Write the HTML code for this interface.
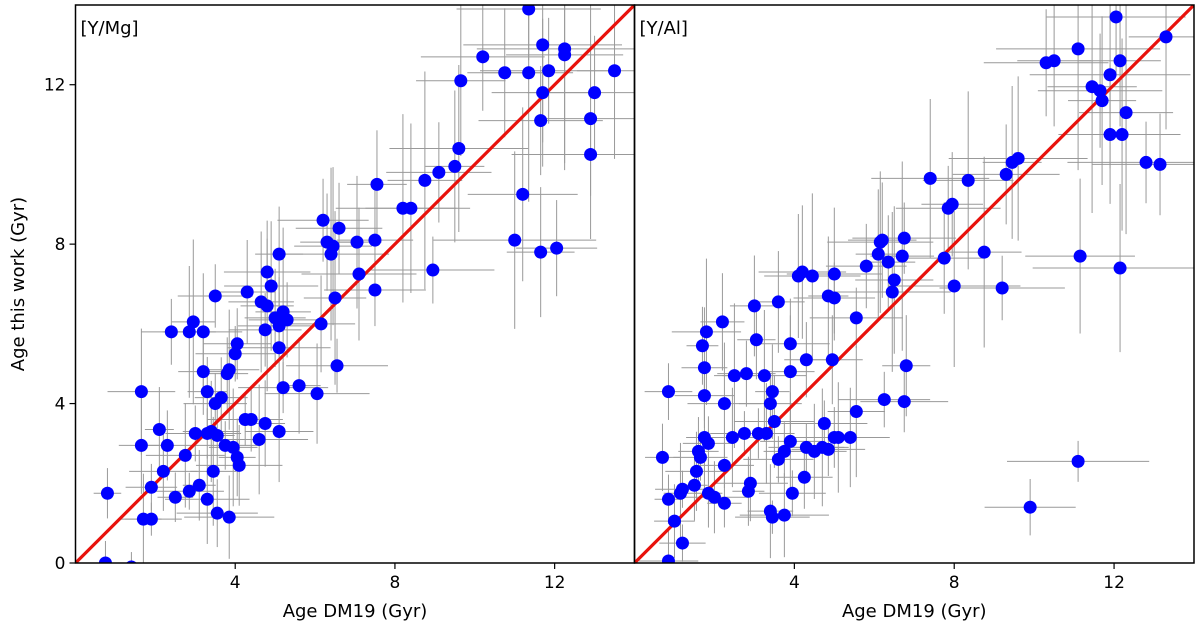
<!DOCTYPE html>
<html><head><meta charset="utf-8"><style>
body{margin:0;background:#fff}
svg{display:block;font-family:"DejaVu Sans","Liberation Sans",sans-serif}
</style></head><body>
<svg id="c" width="1200" height="630"></svg>
<script>
const magX=[0.75,1.4,0.8,1.65,1.65,1.7,1.9,1.9,2.1,2.2,2.3,2.4,2.5,2.75,2.85,2.95,2.85,3.0,3.1,3.2,3.2,3.3,3.3,3.3,3.4,3.45,3.5,3.5,3.55,3.55,3.65,3.75,3.8,3.85,3.85,3.95,4.0,4.05,4.05,4.1,4.3,4.25,4.4,4.6,4.65,4.8,4.8,4.75,4.75,4.9,5.0,5.1,5.1,5.1,5.1,5.2,5.2,5.3,5.6,6.05,6.15,6.2,6.3,6.4,6.45,6.5,6.55,6.6,7.05,7.1,7.5,7.5,7.55,8.2,8.4,8.75,8.95,9.1,9.5,9.6,9.65,10.2,10.75,11.0,11.2,11.35,11.35,11.65,11.65,11.7,11.7,11.85,12.05,12.25,12.25,12.9,12.9,13.0,13.5];
const magY=[0,-0.1,1.75,4.3,2.95,1.1,1.1,1.9,3.35,2.3,2.95,5.8,1.65,2.7,5.8,6.05,1.8,3.25,1.95,5.8,4.8,3.25,4.3,1.6,3.3,2.3,6.7,4.0,3.2,1.25,4.15,2.95,4.75,1.15,4.85,2.9,5.25,5.5,2.65,2.45,6.8,3.6,3.6,3.1,6.55,6.45,7.3,5.85,3.5,6.95,6.15,5.95,7.75,5.4,3.3,6.3,4.4,6.1,4.45,4.25,6.0,8.6,8.05,7.75,7.95,6.65,4.95,8.4,8.05,7.25,8.1,6.85,9.5,8.9,8.9,9.6,7.35,9.8,9.95,10.4,12.1,12.7,12.3,8.1,9.25,12.3,13.9,11.1,7.8,13.0,11.8,12.35,7.9,12.9,12.75,11.15,10.25,11.8,12.35];
const alX=[0.7,0.85,0.85,0.85,1.0,1.15,1.2,1.2,1.5,1.55,1.6,1.65,1.7,1.8,1.75,1.75,1.75,1.85,1.85,2.0,2.2,2.25,2.25,2.25,2.45,2.5,2.75,2.8,2.85,2.9,3.0,3.1,3.05,3.25,3.3,3.4,3.45,3.4,3.45,3.5,3.6,3.6,3.75,3.75,3.9,3.9,3.9,3.95,4.1,4.2,4.25,4.3,4.3,4.45,4.5,4.7,4.75,4.85,4.85,5.0,4.95,5.0,5.0,5.1,5.4,5.55,5.55,5.8,6.1,6.15,6.2,6.25,6.35,6.45,6.5,6.7,6.75,6.75,6.8,7.4,7.75,7.85,7.95,8.0,8.35,8.75,9.2,9.3,9.45,9.6,9.9,10.3,10.5,11.1,11.15,11.45,11.1,11.65,11.7,11.9,11.9,12.05,12.15,12.15,12.2,12.3,12.8,13.15,13.3];
const alY=[2.65,4.3,1.6,0.05,1.05,1.75,1.85,0.5,1.95,2.3,2.8,2.65,5.45,5.8,4.9,3.15,4.2,3.0,1.75,1.65,6.05,2.45,1.5,4.0,3.15,4.7,3.25,4.75,1.8,2.0,6.45,3.25,5.6,4.7,3.25,1.3,1.15,4.0,4.3,3.55,6.55,2.6,2.8,1.2,3.05,4.8,5.5,1.75,7.2,7.3,2.15,2.9,5.1,7.2,2.8,2.9,3.5,2.85,6.7,7.25,5.1,6.65,3.15,3.15,3.15,3.8,6.15,7.45,7.75,8.05,8.1,4.1,7.55,6.8,7.1,7.7,8.15,4.05,4.95,9.65,7.65,8.9,9.0,6.95,9.6,7.8,6.9,9.75,10.05,10.15,1.4,12.55,12.6,12.9,7.7,11.95,2.55,11.85,11.6,12.25,10.75,13.7,12.6,7.4,10.75,11.3,10.05,10.0,13.2];
const errXs=[0.9,1.2,0.7,1.5,1.0,0.8,1.3,1.1,0.6,1.4];
const errYs=[1.3,1.0,1.8,0.9,1.5,2.2,1.1,1.6,0.8,2.0];
const ticks=[4,8,12];
const NS="http://www.w3.org/2000/svg";
const svg=document.getElementById('c');
function mk(t,a,p){const e=document.createElementNS(NS,t);for(const k in a)e.setAttribute(k,a[k]);(p||svg).appendChild(e);return e;}
const Y0=563,Y1=5,D=14;
function sy(v){return Y0-(v/D)*(Y0-Y1);}
function panel(x0,x1,xs,ys,label,name,showY){
  const sx=v=>x0+(v/D)*(x1-x0);
  const g=mk('g',{});
  
  
  const cp='cp'+name;
  const cl=mk('clipPath',{id:cp},g);mk('rect',{x:x0,y:Y1,width:x1-x0,height:Y0-Y1},cl);
  const eg=mk('g',{'clip-path':'url(#'+cp+')',stroke:'#999','stroke-width':1},g);
  
  
  for(let i=0;i<xs.length;i++){
    const ex=0.85*errXs[i%10]*(0.5+xs[i]/10),ey=0.85*errYs[(i*3)%10]*(0.5+ys[i]/10);
    mk('line',{x1:sx(xs[i]-ex),x2:sx(xs[i]+ex),y1:sy(ys[i]),y2:sy(ys[i])},eg);
    mk('line',{x1:sx(xs[i]),x2:sx(xs[i]),y1:sy(ys[i]-ey),y2:sy(ys[i]+ey)},eg);
  }
  const ln=mk('line',{x1:sx(0),y1:sy(0),x2:sx(D),y2:sy(D),stroke:'#e8120c','stroke-width':3.2,'clip-path':'url(#'+cp+')'},g);
  
  
  const pg=mk('g',{'clip-path':'url(#'+cp+')'},g);
  for(let i=0;i<xs.length;i++){
    const c=mk('circle',{cx:sx(xs[i]),cy:sy(ys[i]),r:6.5,fill:'#0000ff'},pg);
    
    
  }
  const fr=mk('rect',{x:x0,y:Y1,width:x1-x0,height:Y0-Y1,fill:'none',stroke:'#000','stroke-width':1.5},g);
  
  
  ticks.forEach(t=>{
    mk('line',{x1:sx(t),x2:sx(t),y1:Y0,y2:Y0+6,stroke:'#000','stroke-width':1.2},g);
    const tx=mk('text',{x:sx(t),y:Y0+25,'text-anchor':'middle','font-size':17},g);tx.textContent=t;
    
    
  });
  if(showY){
    [0,4,8,12].forEach(t=>{
      mk('line',{x1:x0-6,x2:x0,y1:sy(t),y2:sy(t),stroke:'#000','stroke-width':1.2},g);
      const ty=mk('text',{x:x0-10,y:sy(t)+6,'text-anchor':'end','font-size':17},g);ty.textContent=t;
      
      
    });
  }
  const lb=mk('text',{x:x0+5,y:34,'font-size':18},g);lb.textContent=label;
  
  
  const xl=mk('text',{x:(x0+x1)/2,y:617,'text-anchor':'middle','font-size':18},g);xl.textContent='Age DM19 (Gyr)';
  
  
}
panel(75.5,634.5,magX,magY,'[Y/Mg]','panel-y-mg',true);
panel(634.5,1194,alX,alY,'[Y/Al]','panel-y-al',false);
const yl=mk('text',{x:0,y:0,'text-anchor':'middle','font-size':18,transform:'translate(24,284) rotate(-90)'});
yl.textContent='Age this work (Gyr)';


</script>
</body></html>
